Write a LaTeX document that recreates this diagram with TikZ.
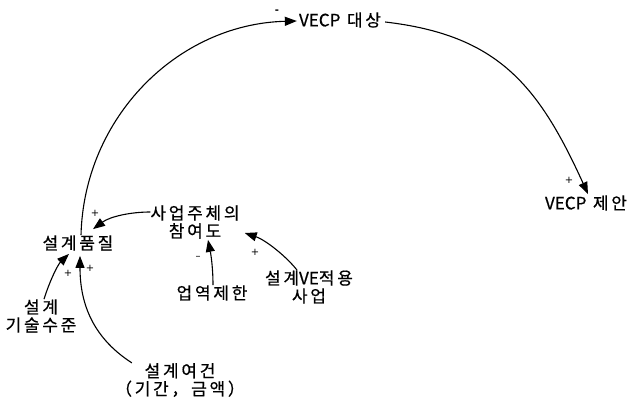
\documentclass[tikz,border=0pt]{standalone}
\usepackage{fontspec}
\setmainfont{Noto Sans CJK KR}[LetterSpace=16,FakeBold=0.6]
\newfontfamily\latfont{Noto Sans CJK KR}[FakeBold=0.6]
\newfontfamily\signfont{DejaVu Sans}
\newcommand{\lat}[1]{{\latfont #1}}
\usetikzlibrary{arrows.meta,calc}
\tikzset{
  var/.style={inner sep=0pt, align=center, font=\fontsize{17}{18}\selectfont},
  sign/.style={inner sep=0pt, font=\signfont\fontsize{10}{10}\selectfont},
  link/.style={line width=1.1pt, -{Triangle[length=12pt,width=9pt]}},
}
\begin{document}
\begin{tikzpicture}[x=1pt,y=-1pt]
\path[use as bounding box] (0,0) rectangle (637,401);
\node[var] (v) at (340,20) {\lat{VECP} 대상};
\node[var] (p) at (586,203) {\lat{VECP} 제안};
\node[var] (q) at (78,243) {설계품질};
\node[var] (c) at (195,222) {사업주체의\\참여도};
\node[var] (r) at (212,293) {업역제한};
\node[var] (ve) at (309,287) {설계\lat{VE}적용\\사업};
\node[var] (t) at (41,316) {설계\\기술수준};
\node[var] (w) at (180,380) {설계여건\\（기간，금액）};

\draw[link] ($(q.north)+(3,0)$) .. controls +(3,-118) and +(-119,3) .. ($(v.west)+(-2,1)$);
\draw[link] ($(v.east)+(4,2)$) .. controls +(112,13) and +(-50,-110) .. ($(p.north)+(2,-1)$);
\draw[link] ($(c.west)+(0,-10)$) .. controls +(-20,0) and +(17,-12.5) .. ($(q.north)+(15,-6)$);
\draw[link] ($(r.north)+(1,0)$) .. controls +(0,-17) and +(3,15) .. ($(c.south)+(13,1)$);
\draw[link] ($(ve.north)+(-12,0)$) .. controls +(-10,-13) and +(21,7) .. ($(c.east)+(5,11)$);
\draw[link] ($(t.north)+(3,0)$) .. controls +(6,-19) and +(-11,10.5) .. ($(q.south)+(-9,3)$);
\draw[link] ($(w.north west)+(17,0)$) .. controls +(-42,-27) and +(0,43.5) .. ($(q.south)+(2,5)$);

\node[sign] (s1) at (277,12) {\textbf{-}};
\node[sign] (s2) at (569,180) {+};
\node[sign] (s3) at (95,213) {+};
\node[sign] (s4) at (198,258) {–};
\node[sign] (s5) at (255,252) {+};
\node[sign] (s6) at (68,273) {+};
\node[sign] (s7) at (90,268) {+};
\end{tikzpicture}
\end{document}
